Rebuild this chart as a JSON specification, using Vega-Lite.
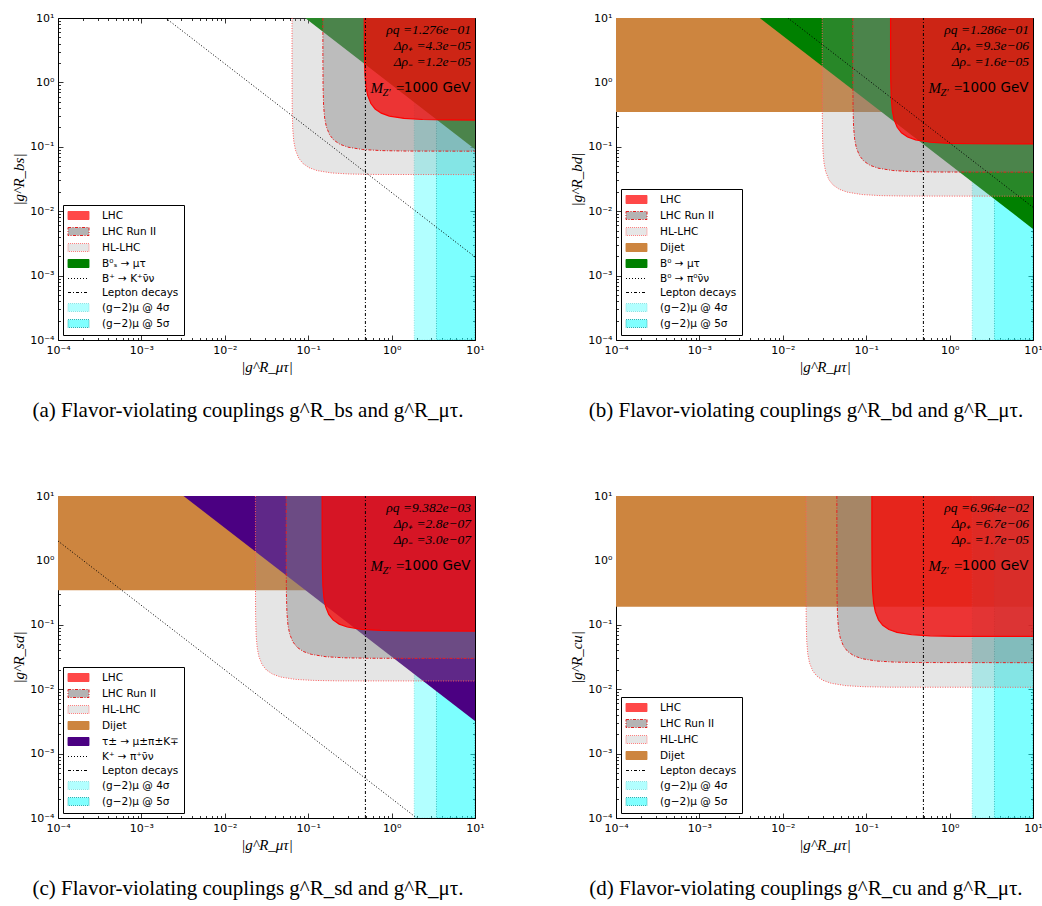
{
"$schema": "https://vega.github.io/schema/vega-lite/v6.json",
"background": "white",
"padding": {"left": 11, "top": 11, "right": 2, "bottom": 2},
"datasets": {
"curves": [
{"p":"a","r":"fl","x":0.092,"y":10},{"p":"a","r":"fl","x":10,"y":0.092},
{"p":"a","r":"hl","x":0.064,"y":10},{"p":"a","r":"hl","x":0.0640032,"y":3.7},{"p":"a","r":"hl","x":0.064032,"y":1.17},{"p":"a","r":"hl","x":0.06432,"y":0.3715},{"p":"a","r":"hl","x":0.06528,"y":0.1878},{"p":"a","r":"hl","x":0.0672,"y":0.1214},{"p":"a","r":"hl","x":0.0704,"y":0.0888},{"p":"a","r":"hl","x":0.0768,"y":0.0669},{"p":"a","r":"hl","x":0.0864,"y":0.0551},{"p":"a","r":"hl","x":0.1024,"y":0.0474},{"p":"a","r":"hl","x":0.128,"y":0.0427},{"p":"a","r":"hl","x":0.192,"y":0.03925},{"p":"a","r":"hl","x":0.32,"y":0.03776},{"p":"a","r":"hl","x":0.64,"y":0.03719},{"p":"a","r":"hl","x":10,"y":0.037},
{"p":"a","r":"run2","x":0.15,"y":10},{"p":"a","r":"run2","x":0.150008,"y":8.55},{"p":"a","r":"run2","x":0.150075,"y":2.704},{"p":"a","r":"run2","x":0.15075,"y":0.8584},{"p":"a","r":"run2","x":0.153,"y":0.4339},{"p":"a","r":"run2","x":0.1575,"y":0.2804},{"p":"a","r":"run2","x":0.165,"y":0.2052},{"p":"a","r":"run2","x":0.18,"y":0.1547},{"p":"a","r":"run2","x":0.2025,"y":0.1273},{"p":"a","r":"run2","x":0.24,"y":0.1095},{"p":"a","r":"run2","x":0.3,"y":0.0987},{"p":"a","r":"run2","x":0.45,"y":0.0907},{"p":"a","r":"run2","x":0.75,"y":0.0873},{"p":"a","r":"run2","x":1.5,"y":0.0859},{"p":"a","r":"run2","x":10,"y":0.0855},
{"p":"a","r":"lhc","x":0.47,"y":10},{"p":"a","r":"lhc","x":0.470235,"y":8.224},{"p":"a","r":"lhc","x":0.47235,"y":2.61},{"p":"a","r":"lhc","x":0.4794,"y":1.3195},{"p":"a","r":"lhc","x":0.4935,"y":0.8528},{"p":"a","r":"lhc","x":0.517,"y":0.624},{"p":"a","r":"lhc","x":0.564,"y":0.4703},{"p":"a","r":"lhc","x":0.6345,"y":0.387},{"p":"a","r":"lhc","x":0.752,"y":0.3331},{"p":"a","r":"lhc","x":0.94,"y":0.3002},{"p":"a","r":"lhc","x":1.41,"y":0.2758},{"p":"a","r":"lhc","x":2.35,"y":0.2654},{"p":"a","r":"lhc","x":4.7,"y":0.2613},{"p":"a","r":"lhc","x":10,"y":0.26},
{"p":"b","r":"fl","x":0.0053,"y":10},{"p":"b","r":"fl","x":10,"y":0.0053},
{"p":"b","r":"hl","x":0.0297,"y":10},{"p":"b","r":"hl","x":0.0297015,"y":1.71},{"p":"b","r":"hl","x":0.0297149,"y":0.5409},{"p":"b","r":"hl","x":0.02985,"y":0.1717},{"p":"b","r":"hl","x":0.030294,"y":0.08678},{"p":"b","r":"hl","x":0.031185,"y":0.05609},{"p":"b","r":"hl","x":0.03267,"y":0.04104},{"p":"b","r":"hl","x":0.03564,"y":0.03093},{"p":"b","r":"hl","x":0.0401,"y":0.02546},{"p":"b","r":"hl","x":0.04752,"y":0.0219},{"p":"b","r":"hl","x":0.0594,"y":0.01975},{"p":"b","r":"hl","x":0.0891,"y":0.01814},{"p":"b","r":"hl","x":0.1485,"y":0.01745},{"p":"b","r":"hl","x":0.297,"y":0.01719},{"p":"b","r":"hl","x":10,"y":0.0171},
{"p":"b","r":"run2","x":0.0692,"y":10},{"p":"b","r":"run2","x":0.0692035,"y":4.04},{"p":"b","r":"run2","x":0.0692346,"y":1.278},{"p":"b","r":"run2","x":0.069546,"y":0.4056},{"p":"b","r":"run2","x":0.070584,"y":0.205},{"p":"b","r":"run2","x":0.07266,"y":0.1325},{"p":"b","r":"run2","x":0.07612,"y":0.097},{"p":"b","r":"run2","x":0.08304,"y":0.0731},{"p":"b","r":"run2","x":0.09342,"y":0.06014},{"p":"b","r":"run2","x":0.11072,"y":0.05175},{"p":"b","r":"run2","x":0.1384,"y":0.04665},{"p":"b","r":"run2","x":0.2076,"y":0.04285},{"p":"b","r":"run2","x":0.346,"y":0.04123},{"p":"b","r":"run2","x":0.692,"y":0.0406},{"p":"b","r":"run2","x":10,"y":0.0404},
{"p":"b","r":"lhc","x":0.196,"y":10},{"p":"b","r":"lhc","x":0.196098,"y":3.511},{"p":"b","r":"lhc","x":0.19698,"y":1.1144},{"p":"b","r":"lhc","x":0.19992,"y":0.5633},{"p":"b","r":"lhc","x":0.2058,"y":0.3641},{"p":"b","r":"lhc","x":0.2156,"y":0.2664},{"p":"b","r":"lhc","x":0.2352,"y":0.2008},{"p":"b","r":"lhc","x":0.2646,"y":0.1652},{"p":"b","r":"lhc","x":0.3136,"y":0.1422},{"p":"b","r":"lhc","x":0.392,"y":0.1282},{"p":"b","r":"lhc","x":0.588,"y":0.1177},{"p":"b","r":"lhc","x":0.98,"y":0.1133},{"p":"b","r":"lhc","x":1.96,"y":0.1116},{"p":"b","r":"lhc","x":10,"y":0.111},
{"p":"c","r":"fl","x":0.0032,"y":10},{"p":"c","r":"fl","x":10,"y":0.0032},
{"p":"c","r":"hl","x":0.0233,"y":10},{"p":"c","r":"hl","x":0.0233012,"y":1.34},{"p":"c","r":"hl","x":0.0233117,"y":0.4238},{"p":"c","r":"hl","x":0.023417,"y":0.1345},{"p":"c","r":"hl","x":0.023766,"y":0.068},{"p":"c","r":"hl","x":0.024465,"y":0.04395},{"p":"c","r":"hl","x":0.02563,"y":0.03216},{"p":"c","r":"hl","x":0.02796,"y":0.02424},{"p":"c","r":"hl","x":0.031455,"y":0.01995},{"p":"c","r":"hl","x":0.03728,"y":0.01717},{"p":"c","r":"hl","x":0.0466,"y":0.01547},{"p":"c","r":"hl","x":0.0699,"y":0.01421},{"p":"c","r":"hl","x":0.1165,"y":0.01368},{"p":"c","r":"hl","x":0.233,"y":0.01347},{"p":"c","r":"hl","x":10,"y":0.0134},
{"p":"c","r":"run2","x":0.0545,"y":10},{"p":"c","r":"run2","x":0.0545027,"y":3.01},{"p":"c","r":"run2","x":0.0545273,"y":0.952},{"p":"c","r":"run2","x":0.054773,"y":0.3022},{"p":"c","r":"run2","x":0.05559,"y":0.1528},{"p":"c","r":"run2","x":0.057225,"y":0.09873},{"p":"c","r":"run2","x":0.05995,"y":0.07224},{"p":"c","r":"run2","x":0.0654,"y":0.05445},{"p":"c","r":"run2","x":0.073575,"y":0.04481},{"p":"c","r":"run2","x":0.0872,"y":0.03856},{"p":"c","r":"run2","x":0.109,"y":0.03476},{"p":"c","r":"run2","x":0.1635,"y":0.03193},{"p":"c","r":"run2","x":0.2725,"y":0.03072},{"p":"c","r":"run2","x":0.545,"y":0.03025},{"p":"c","r":"run2","x":10,"y":0.0301},
{"p":"c","r":"lhc","x":0.147,"y":10},{"p":"c","r":"lhc","x":0.1470074,"y":8},{"p":"c","r":"lhc","x":0.1470735,"y":2.53},{"p":"c","r":"lhc","x":0.147735,"y":0.8032},{"p":"c","r":"lhc","x":0.14994,"y":0.406},{"p":"c","r":"lhc","x":0.15435,"y":0.2624},{"p":"c","r":"lhc","x":0.1617,"y":0.192},{"p":"c","r":"lhc","x":0.1764,"y":0.1447},{"p":"c","r":"lhc","x":0.19845,"y":0.1191},{"p":"c","r":"lhc","x":0.2352,"y":0.1025},{"p":"c","r":"lhc","x":0.294,"y":0.09238},{"p":"c","r":"lhc","x":0.441,"y":0.08486},{"p":"c","r":"lhc","x":0.735,"y":0.08165},{"p":"c","r":"lhc","x":1.47,"y":0.0804},{"p":"c","r":"lhc","x":10,"y":0.08},
{"p":"d","r":"hl","x":0.019,"y":10},{"p":"d","r":"hl","x":0.019001,"y":1.07},{"p":"d","r":"hl","x":0.0190095,"y":0.3384},{"p":"d","r":"hl","x":0.019095,"y":0.1074},{"p":"d","r":"hl","x":0.01938,"y":0.0543},{"p":"d","r":"hl","x":0.01995,"y":0.0351},{"p":"d","r":"hl","x":0.0209,"y":0.02568},{"p":"d","r":"hl","x":0.0228,"y":0.01936},{"p":"d","r":"hl","x":0.02565,"y":0.01593},{"p":"d","r":"hl","x":0.0304,"y":0.01371},{"p":"d","r":"hl","x":0.038,"y":0.01236},{"p":"d","r":"hl","x":0.057,"y":0.01135},{"p":"d","r":"hl","x":0.095,"y":0.01092},{"p":"d","r":"hl","x":0.19,"y":0.01075},{"p":"d","r":"hl","x":10,"y":0.0107},
{"p":"d","r":"run2","x":0.0445,"y":10},{"p":"d","r":"run2","x":0.0445022,"y":2.58},{"p":"d","r":"run2","x":0.0445223,"y":0.816},{"p":"d","r":"run2","x":0.044723,"y":0.259},{"p":"d","r":"run2","x":0.04539,"y":0.1309},{"p":"d","r":"run2","x":0.046725,"y":0.08462},{"p":"d","r":"run2","x":0.04895,"y":0.06192},{"p":"d","r":"run2","x":0.0534,"y":0.04667},{"p":"d","r":"run2","x":0.060075,"y":0.03841},{"p":"d","r":"run2","x":0.0712,"y":0.03305},{"p":"d","r":"run2","x":0.089,"y":0.02979},{"p":"d","r":"run2","x":0.1335,"y":0.02737},{"p":"d","r":"run2","x":0.2225,"y":0.02633},{"p":"d","r":"run2","x":0.445,"y":0.02593},{"p":"d","r":"run2","x":10,"y":0.0258},
{"p":"d","r":"lhc","x":0.117,"y":10},{"p":"d","r":"lhc","x":0.1170059,"y":6.6},{"p":"d","r":"lhc","x":0.1170585,"y":2.088},{"p":"d","r":"lhc","x":0.117585,"y":0.6626},{"p":"d","r":"lhc","x":0.11934,"y":0.335},{"p":"d","r":"lhc","x":0.12285,"y":0.2165},{"p":"d","r":"lhc","x":0.1287,"y":0.1584},{"p":"d","r":"lhc","x":0.1404,"y":0.1194},{"p":"d","r":"lhc","x":0.15795,"y":0.09825},{"p":"d","r":"lhc","x":0.1872,"y":0.08455},{"p":"d","r":"lhc","x":0.234,"y":0.07621},{"p":"d","r":"lhc","x":0.351,"y":0.07},{"p":"d","r":"lhc","x":0.585,"y":0.06736},{"p":"d","r":"lhc","x":1.17,"y":0.06633},{"p":"d","r":"lhc","x":10,"y":0.066}
],
"rects": [
{"p":"a","r":"c4","x1":1.87,"x2":10,"y1":0.0001,"y2":10},{"p":"a","r":"c5","x1":3.45,"x2":10,"y1":0.0001,"y2":10},
{"p":"b","r":"dj","x1":0.0001,"x2":10,"y1":0.348,"y2":10},{"p":"b","r":"c4","x1":1.87,"x2":10,"y1":0.0001,"y2":10},{"p":"b","r":"c5","x1":3.45,"x2":10,"y1":0.0001,"y2":10},
{"p":"c","r":"dj","x1":0.0001,"x2":10,"y1":0.345,"y2":10},{"p":"c","r":"c4","x1":1.87,"x2":10,"y1":0.0001,"y2":10},{"p":"c","r":"c5","x1":3.45,"x2":10,"y1":0.0001,"y2":10},
{"p":"d","r":"dj","x1":0.0001,"x2":10,"y1":0.19,"y2":10},{"p":"d","r":"c4","x1":1.87,"x2":10,"y1":0.0001,"y2":10},{"p":"d","r":"c5","x1":3.45,"x2":10,"y1":0.0001,"y2":10}
],
"rules": [
{"p":"a","r":"dot","x1":0.00195,"y1":10,"x2":10,"y2":0.00195},{"p":"a","r":"lep","x1":0.485,"y1":0.0001,"x2":0.485,"y2":10},
{"p":"b","r":"dot","x1":0.0115,"y1":10,"x2":10,"y2":0.0115},{"p":"b","r":"lep","x1":0.485,"y1":0.0001,"x2":0.485,"y2":10},
{"p":"c","r":"dot","x1":0.0001,"y1":2.0,"x2":2.0,"y2":0.0001},{"p":"c","r":"lep","x1":0.485,"y1":0.0001,"x2":0.485,"y2":10},
{"p":"d","r":"lep","x1":0.485,"y1":0.0001,"x2":0.485,"y2":10}
],
"notes": [
{"p":"a","lines":["ρq =1.276e−01","Δρ₊ =4.3e−05","Δρ₋ =1.2e−05"]},
{"p":"b","lines":["ρq =1.286e−01","Δρ₊ =9.3e−06","Δρ₋ =1.6e−05"]},
{"p":"c","lines":["ρq =9.382e−03","Δρ₊ =2.8e−07","Δρ₋ =3.0e−07"]},
{"p":"d","lines":["ρq =6.964e−02","Δρ₊ =6.7e−06","Δρ₋ =1.7e−05"]}
]
},
"columns": 2,
"spacing": {"row": 156, "column": 141},
"bounds": "flush",
"resolve": {"scale": {"x": "independent", "y": "independent", "color": "independent", "stroke": "independent", "strokeDash": "independent", "shape": "independent"}, "legend": {"color": "independent", "stroke": "independent", "strokeDash": "independent", "shape": "independent"}},
"concat": [
{
"width": 417, "height": 322,
"title": {"text": "(a) Flavor-violating couplings g^R_bs and g^R_μτ."},
"resolve": {"axis": {"x": "independent", "y": "independent"}},
"layer": [
{"data": {"name": "rects"}, "transform": [{"filter": "datum.p=='a' && datum.r=='c4'"}],
 "mark": {"type": "rect", "color": "#00ffff", "fillOpacity": 0.3, "stroke": "#8fe3e3", "strokeWidth": 1, "strokeDash": [1, 1.5], "clip": true},
 "encoding": {
  "x": {"field": "x1", "type": "quantitative", "scale": {"type": "log", "domain": [0.0001, 10]}, "axis": {"orient": "bottom", "values": [0.0001,0.001,0.01,0.1,1,10], "tickSize": -5, "labelPadding": 9, "labelExpr": "['10⁻⁴','10⁻³','10⁻²','10⁻¹','10⁰','10¹'][round(log(datum.value)/LN10)+4]", "title": "|g^R_μτ|", "titlePadding": 4}},
  "x2": {"field": "x2"},
  "y": {"field": "y1", "type": "quantitative", "scale": {"type": "log", "domain": [0.0001, 10]}, "axis": {"orient": "left", "values": [0.0001,0.001,0.01,0.1,1,10], "tickSize": -5, "labelPadding": 9, "labelExpr": "['10⁻⁴','10⁻³','10⁻²','10⁻¹','10⁰','10¹'][round(log(datum.value)/LN10)+4]", "title": "|g^R_bs|", "titlePadding": 3}},
  "y2": {"field": "y2"}}},
{"data": {"name": "rects"}, "transform": [{"filter": "datum.p=='a' && datum.r=='c5'"}],
 "mark": {"type": "rect", "color": "#00ffff", "fillOpacity": 0.3, "stroke": "#3cbcbc", "strokeWidth": 1, "strokeDash": [1, 1.5], "clip": true},
 "encoding": {
  "x": {"field": "x1", "type": "quantitative", "scale": {"type": "log", "domain": [0.0001, 10]}, "axis": {"orient": "bottom", "values": [0.0002,0.0003,0.0004,0.0005,0.0006,0.0007,0.0008,0.0009,0.002,0.003,0.004,0.005,0.006,0.007,0.008,0.009,0.02,0.03,0.04,0.05,0.06,0.07,0.08,0.09,0.2,0.3,0.4,0.5,0.6,0.7,0.8,0.9,2,3,4,5,6,7,8,9], "tickSize": -2.5, "labels": false, "title": null}},
  "x2": {"field": "x2"},
  "y": {"field": "y1", "type": "quantitative", "scale": {"type": "log", "domain": [0.0001, 10]}, "axis": {"orient": "left", "values": [0.0002,0.0003,0.0004,0.0005,0.0006,0.0007,0.0008,0.0009,0.002,0.003,0.004,0.005,0.006,0.007,0.008,0.009,0.02,0.03,0.04,0.05,0.06,0.07,0.08,0.09,0.2,0.3,0.4,0.5,0.6,0.7,0.8,0.9,2,3,4,5,6,7,8,9], "tickSize": -2.5, "labels": false, "title": null}},
  "y2": {"field": "y2"}}},
{"data": {"name": "curves"}, "transform": [{"filter": "datum.p=='a' && datum.r=='fl'"}],
 "mark": {"type": "area", "color": "#008000", "clip": true},
 "encoding": {"x": {"field": "x", "type": "quantitative", "scale": {"type": "log", "domain": [0.0001, 10]}, "axis": null}, "y": {"field": "y", "type": "quantitative", "scale": {"type": "log", "domain": [0.0001, 10]}, "axis": null}, "y2": {"datum": 10}}},
{"data": {"name": "curves"}, "transform": [{"filter": "datum.p=='a' && datum.r=='hl'"}],
 "mark": {"type": "area", "color": "#9b9b9b", "fillOpacity": 0.26, "clip": true},
 "encoding": {"x": {"field": "x", "type": "quantitative", "scale": {"type": "log", "domain": [0.0001, 10]}, "axis": null}, "y": {"field": "y", "type": "quantitative", "scale": {"type": "log", "domain": [0.0001, 10]}, "axis": null}, "y2": {"datum": 10}}},
{"data": {"name": "curves"}, "transform": [{"filter": "datum.p=='a' && datum.r=='hl'"}],
 "mark": {"type": "line", "stroke": "#ff5a5a", "strokeWidth": 1, "strokeDash": [1, 1.5], "clip": true},
 "encoding": {"x": {"field": "x", "type": "quantitative", "scale": {"type": "log", "domain": [0.0001, 10]}, "axis": null}, "y": {"field": "y", "type": "quantitative", "scale": {"type": "log", "domain": [0.0001, 10]}, "axis": null}}},
{"data": {"name": "curves"}, "transform": [{"filter": "datum.p=='a' && datum.r=='run2'"}],
 "mark": {"type": "area", "color": "#808080", "fillOpacity": 0.4, "clip": true},
 "encoding": {"x": {"field": "x", "type": "quantitative", "scale": {"type": "log", "domain": [0.0001, 10]}, "axis": null}, "y": {"field": "y", "type": "quantitative", "scale": {"type": "log", "domain": [0.0001, 10]}, "axis": null}, "y2": {"datum": 10}}},
{"data": {"name": "curves"}, "transform": [{"filter": "datum.p=='a' && datum.r=='run2'"}],
 "mark": {"type": "line", "stroke": "#e82020", "strokeWidth": 1, "strokeDash": [3, 1.5, 1, 1.5], "clip": true},
 "encoding": {"x": {"field": "x", "type": "quantitative", "scale": {"type": "log", "domain": [0.0001, 10]}, "axis": null}, "y": {"field": "y", "type": "quantitative", "scale": {"type": "log", "domain": [0.0001, 10]}, "axis": null}}},
{"data": {"name": "curves"}, "transform": [{"filter": "datum.p=='a' && datum.r=='lhc'"}],
 "mark": {"type": "area", "color": "#ff0000", "fillOpacity": 0.72, "clip": true},
 "encoding": {"x": {"field": "x", "type": "quantitative", "scale": {"type": "log", "domain": [0.0001, 10]}, "axis": {"orient": "top", "values": [0.0001,0.001,0.01,0.1,1,10], "tickSize": -5, "labels": false, "title": null}}, "y": {"field": "y", "type": "quantitative", "scale": {"type": "log", "domain": [0.0001, 10]}, "axis": {"orient": "right", "values": [0.0001,0.001,0.01,0.1,1,10], "tickSize": -5, "labels": false, "title": null}}, "y2": {"datum": 10}}},
{"data": {"name": "curves"}, "transform": [{"filter": "datum.p=='a' && datum.r=='lhc'"}],
 "mark": {"type": "line", "stroke": "#ff0000", "strokeWidth": 1.2, "clip": true},
 "encoding": {"x": {"field": "x", "type": "quantitative", "scale": {"type": "log", "domain": [0.0001, 10]}, "axis": {"orient": "top", "values": [0.0002,0.0003,0.0004,0.0005,0.0006,0.0007,0.0008,0.0009,0.002,0.003,0.004,0.005,0.006,0.007,0.008,0.009,0.02,0.03,0.04,0.05,0.06,0.07,0.08,0.09,0.2,0.3,0.4,0.5,0.6,0.7,0.8,0.9,2,3,4,5,6,7,8,9], "tickSize": -2.5, "labels": false, "title": null}}, "y": {"field": "y", "type": "quantitative", "scale": {"type": "log", "domain": [0.0001, 10]}, "axis": {"orient": "right", "values": [0.0002,0.0003,0.0004,0.0005,0.0006,0.0007,0.0008,0.0009,0.002,0.003,0.004,0.005,0.006,0.007,0.008,0.009,0.02,0.03,0.04,0.05,0.06,0.07,0.08,0.09,0.2,0.3,0.4,0.5,0.6,0.7,0.8,0.9,2,3,4,5,6,7,8,9], "tickSize": -2.5, "labels": false, "title": null}}}},
{"data": {"name": "rules"}, "transform": [{"filter": "datum.p=='a' && datum.r=='dot'"}],
 "mark": {"type": "rule", "color": "#000000", "strokeWidth": 1, "strokeDash": [1, 2], "clip": true},
 "encoding": {"x": {"field": "x1", "type": "quantitative", "scale": {"type": "log", "domain": [0.0001, 10]}, "axis": null}, "y": {"field": "y1", "type": "quantitative", "scale": {"type": "log", "domain": [0.0001, 10]}, "axis": null}, "x2": {"field": "x2"}, "y2": {"field": "y2"}}},
{"data": {"name": "rules"}, "transform": [{"filter": "datum.p=='a' && datum.r=='lep'"}],
 "mark": {"type": "rule", "color": "#000000", "strokeWidth": 1, "strokeDash": [3, 2, 1, 2], "clip": true},
 "encoding": {"x": {"field": "x1", "type": "quantitative", "scale": {"type": "log", "domain": [0.0001, 10]}, "axis": null}, "y": {"field": "y1", "type": "quantitative", "scale": {"type": "log", "domain": [0.0001, 10]}, "axis": null}, "x2": {"field": "x2"}, "y2": {"field": "y2"}}},
{"data": {"name": "notes"}, "transform": [{"filter": "datum.p=='a'"}],
 "mark": {"type": "text", "align": "right", "baseline": "top", "dx": -4, "dy": 5, "lineHeight": 16, "font": "Liberation Serif", "fontStyle": "italic", "fontSize": 13.5, "color": "#000000"},
 "encoding": {"x": {"datum": 10, "type": "quantitative", "scale": {"type": "log", "domain": [0.0001, 10]}, "axis": null}, "y": {"datum": 10, "type": "quantitative", "scale": {"type": "log", "domain": [0.0001, 10]}, "axis": null}, "text": {"field": "lines"}}},
{"data": {"name": "notes"}, "transform": [{"filter": "datum.p=='a'"}],
 "mark": {"type": "text", "text": "M", "align": "left", "baseline": "middle", "dx": -104.5, "dy": 70, "font": "Liberation Serif", "fontStyle": "italic", "fontSize": 15, "color": "#000000"},
 "encoding": {"x": {"datum": 10, "type": "quantitative", "scale": {"type": "log", "domain": [0.0001, 10]}, "axis": null}, "y": {"datum": 10, "type": "quantitative", "scale": {"type": "log", "domain": [0.0001, 10]}, "axis": null}}},
{"data": {"name": "notes"}, "transform": [{"filter": "datum.p=='a'"}],
 "mark": {"type": "text", "text": "Z′", "align": "left", "baseline": "middle", "dx": -92.5, "dy": 75, "font": "Liberation Serif", "fontStyle": "italic", "fontSize": 10.5, "color": "#000000"},
 "encoding": {"x": {"datum": 10, "type": "quantitative", "scale": {"type": "log", "domain": [0.0001, 10]}, "axis": null}, "y": {"datum": 10, "type": "quantitative", "scale": {"type": "log", "domain": [0.0001, 10]}, "axis": null}}},
{"data": {"name": "notes"}, "transform": [{"filter": "datum.p=='a'"}],
 "mark": {"type": "text", "text": "=", "align": "left", "baseline": "middle", "dx": -79, "dy": 70, "font": "Liberation Serif", "fontSize": 15, "color": "#000000"},
 "encoding": {"x": {"datum": 10, "type": "quantitative", "scale": {"type": "log", "domain": [0.0001, 10]}, "axis": null}, "y": {"datum": 10, "type": "quantitative", "scale": {"type": "log", "domain": [0.0001, 10]}, "axis": null}}},
{"data": {"name": "notes"}, "transform": [{"filter": "datum.p=='a'"}],
 "mark": {"type": "text", "text": "1000 GeV", "align": "right", "baseline": "middle", "dx": -4.5, "dy": 70, "font": "DejaVu Sans", "fontSize": 13.5, "color": "#000000"},
 "encoding": {"x": {"datum": 10, "type": "quantitative", "scale": {"type": "log", "domain": [0.0001, 10]}, "axis": null}, "y": {"datum": 10, "type": "quantitative", "scale": {"type": "log", "domain": [0.0001, 10]}, "axis": null}}},
{"data": {"values": []},
 "mark": {"type": "point", "filled": true, "opacity": 1},
 "encoding": {
  "color": {"datum": "LHC", "type": "nominal", "scale": {"domain": ["LHC","LHC Run II","HL-LHC","B⁰ₛ → μτ","B⁺ → K⁺ν̄ν","Lepton decays","(g−2)μ @ 4σ","(g−2)μ @ 5σ"], "range": ["#ff4848","#b4b4b4","#e6e6e6","#008000","transparent","transparent","#b2ffff","#80ffff"]}, "legend": {"title": null}},
  "stroke": {"datum": "LHC", "type": "nominal", "scale": {"domain": ["LHC","LHC Run II","HL-LHC","B⁰ₛ → μτ","B⁺ → K⁺ν̄ν","Lepton decays","(g−2)μ @ 4σ","(g−2)μ @ 5σ"], "range": ["#ff4848","#e02020","#ff8080","#008000","#000000","#000000","#8fe3e3","#2fb0b0"]}, "legend": {"title": null}},
  "strokeDash": {"datum": "LHC", "type": "nominal", "scale": {"domain": ["LHC","LHC Run II","HL-LHC","B⁰ₛ → μτ","B⁺ → K⁺ν̄ν","Lepton decays","(g−2)μ @ 4σ","(g−2)μ @ 5σ"], "range": [[1,0],[3,1.5,1,1.5],[1,1],[1,0],[1,2],[3,2,1,2],[1,1],[1,1]]}, "legend": {"title": null}},
  "shape": {"datum": "LHC", "type": "nominal", "scale": {"domain": ["LHC","LHC Run II","HL-LHC","B⁰ₛ → μτ","B⁺ → K⁺ν̄ν","Lepton decays","(g−2)μ @ 4σ","(g−2)μ @ 5σ"], "range": ["M-2.1,-0.8H2.1V0.8H-2.1Z","M-2.1,-0.8H2.1V0.8H-2.1Z","M-2.1,-0.8H2.1V0.8H-2.1Z","M-2.1,-0.8H2.1V0.8H-2.1Z","M-2.1,0H2.1","M-2.1,0H2.1","M-2.1,-0.8H2.1V0.8H-2.1Z","M-2.1,-0.8H2.1V0.8H-2.1Z"]}, "legend": {"title": null}}}}
]
},
{
"width": 417, "height": 322,
"title": {"text": "(b) Flavor-violating couplings g^R_bd and g^R_μτ."},
"resolve": {"axis": {"x": "independent", "y": "independent"}},
"layer": [
{"data": {"name": "rects"}, "transform": [{"filter": "datum.p=='b' && datum.r=='dj'"}],
 "mark": {"type": "rect", "color": "#cd853f", "clip": true},
 "encoding": {"x": {"field": "x1", "type": "quantitative", "scale": {"type": "log", "domain": [0.0001, 10]}, "axis": null}, "x2": {"field": "x2"}, "y": {"field": "y1", "type": "quantitative", "scale": {"type": "log", "domain": [0.0001, 10]}, "axis": null}, "y2": {"field": "y2"}}},
{"data": {"name": "rects"}, "transform": [{"filter": "datum.p=='b' && datum.r=='c4'"}],
 "mark": {"type": "rect", "color": "#00ffff", "fillOpacity": 0.3, "stroke": "#8fe3e3", "strokeWidth": 1, "strokeDash": [1, 1.5], "clip": true},
 "encoding": {
  "x": {"field": "x1", "type": "quantitative", "scale": {"type": "log", "domain": [0.0001, 10]}, "axis": {"orient": "bottom", "values": [0.0001,0.001,0.01,0.1,1,10], "tickSize": -5, "labelPadding": 9, "labelExpr": "['10⁻⁴','10⁻³','10⁻²','10⁻¹','10⁰','10¹'][round(log(datum.value)/LN10)+4]", "title": "|g^R_μτ|", "titlePadding": 4}},
  "x2": {"field": "x2"},
  "y": {"field": "y1", "type": "quantitative", "scale": {"type": "log", "domain": [0.0001, 10]}, "axis": {"orient": "left", "values": [0.0001,0.001,0.01,0.1,1,10], "tickSize": -5, "labelPadding": 9, "labelExpr": "['10⁻⁴','10⁻³','10⁻²','10⁻¹','10⁰','10¹'][round(log(datum.value)/LN10)+4]", "title": "|g^R_bd|", "titlePadding": 3}},
  "y2": {"field": "y2"}}},
{"data": {"name": "rects"}, "transform": [{"filter": "datum.p=='b' && datum.r=='c5'"}],
 "mark": {"type": "rect", "color": "#00ffff", "fillOpacity": 0.3, "stroke": "#3cbcbc", "strokeWidth": 1, "strokeDash": [1, 1.5], "clip": true},
 "encoding": {
  "x": {"field": "x1", "type": "quantitative", "scale": {"type": "log", "domain": [0.0001, 10]}, "axis": {"orient": "bottom", "values": [0.0002,0.0003,0.0004,0.0005,0.0006,0.0007,0.0008,0.0009,0.002,0.003,0.004,0.005,0.006,0.007,0.008,0.009,0.02,0.03,0.04,0.05,0.06,0.07,0.08,0.09,0.2,0.3,0.4,0.5,0.6,0.7,0.8,0.9,2,3,4,5,6,7,8,9], "tickSize": -2.5, "labels": false, "title": null}},
  "x2": {"field": "x2"},
  "y": {"field": "y1", "type": "quantitative", "scale": {"type": "log", "domain": [0.0001, 10]}, "axis": {"orient": "left", "values": [0.0002,0.0003,0.0004,0.0005,0.0006,0.0007,0.0008,0.0009,0.002,0.003,0.004,0.005,0.006,0.007,0.008,0.009,0.02,0.03,0.04,0.05,0.06,0.07,0.08,0.09,0.2,0.3,0.4,0.5,0.6,0.7,0.8,0.9,2,3,4,5,6,7,8,9], "tickSize": -2.5, "labels": false, "title": null}},
  "y2": {"field": "y2"}}},
{"data": {"name": "curves"}, "transform": [{"filter": "datum.p=='b' && datum.r=='fl'"}],
 "mark": {"type": "area", "color": "#008000", "clip": true},
 "encoding": {"x": {"field": "x", "type": "quantitative", "scale": {"type": "log", "domain": [0.0001, 10]}, "axis": null}, "y": {"field": "y", "type": "quantitative", "scale": {"type": "log", "domain": [0.0001, 10]}, "axis": null}, "y2": {"datum": 10}}},
{"data": {"name": "curves"}, "transform": [{"filter": "datum.p=='b' && datum.r=='hl'"}],
 "mark": {"type": "area", "color": "#9b9b9b", "fillOpacity": 0.26, "clip": true},
 "encoding": {"x": {"field": "x", "type": "quantitative", "scale": {"type": "log", "domain": [0.0001, 10]}, "axis": null}, "y": {"field": "y", "type": "quantitative", "scale": {"type": "log", "domain": [0.0001, 10]}, "axis": null}, "y2": {"datum": 10}}},
{"data": {"name": "curves"}, "transform": [{"filter": "datum.p=='b' && datum.r=='hl'"}],
 "mark": {"type": "line", "stroke": "#ff5a5a", "strokeWidth": 1, "strokeDash": [1, 1.5], "clip": true},
 "encoding": {"x": {"field": "x", "type": "quantitative", "scale": {"type": "log", "domain": [0.0001, 10]}, "axis": null}, "y": {"field": "y", "type": "quantitative", "scale": {"type": "log", "domain": [0.0001, 10]}, "axis": null}}},
{"data": {"name": "curves"}, "transform": [{"filter": "datum.p=='b' && datum.r=='run2'"}],
 "mark": {"type": "area", "color": "#808080", "fillOpacity": 0.4, "clip": true},
 "encoding": {"x": {"field": "x", "type": "quantitative", "scale": {"type": "log", "domain": [0.0001, 10]}, "axis": null}, "y": {"field": "y", "type": "quantitative", "scale": {"type": "log", "domain": [0.0001, 10]}, "axis": null}, "y2": {"datum": 10}}},
{"data": {"name": "curves"}, "transform": [{"filter": "datum.p=='b' && datum.r=='run2'"}],
 "mark": {"type": "line", "stroke": "#e82020", "strokeWidth": 1, "strokeDash": [3, 1.5, 1, 1.5], "clip": true},
 "encoding": {"x": {"field": "x", "type": "quantitative", "scale": {"type": "log", "domain": [0.0001, 10]}, "axis": null}, "y": {"field": "y", "type": "quantitative", "scale": {"type": "log", "domain": [0.0001, 10]}, "axis": null}}},
{"data": {"name": "curves"}, "transform": [{"filter": "datum.p=='b' && datum.r=='lhc'"}],
 "mark": {"type": "area", "color": "#ff0000", "fillOpacity": 0.72, "clip": true},
 "encoding": {"x": {"field": "x", "type": "quantitative", "scale": {"type": "log", "domain": [0.0001, 10]}, "axis": {"orient": "top", "values": [0.0001,0.001,0.01,0.1,1,10], "tickSize": -5, "labels": false, "title": null}}, "y": {"field": "y", "type": "quantitative", "scale": {"type": "log", "domain": [0.0001, 10]}, "axis": {"orient": "right", "values": [0.0001,0.001,0.01,0.1,1,10], "tickSize": -5, "labels": false, "title": null}}, "y2": {"datum": 10}}},
{"data": {"name": "curves"}, "transform": [{"filter": "datum.p=='b' && datum.r=='lhc'"}],
 "mark": {"type": "line", "stroke": "#ff0000", "strokeWidth": 1.2, "clip": true},
 "encoding": {"x": {"field": "x", "type": "quantitative", "scale": {"type": "log", "domain": [0.0001, 10]}, "axis": {"orient": "top", "values": [0.0002,0.0003,0.0004,0.0005,0.0006,0.0007,0.0008,0.0009,0.002,0.003,0.004,0.005,0.006,0.007,0.008,0.009,0.02,0.03,0.04,0.05,0.06,0.07,0.08,0.09,0.2,0.3,0.4,0.5,0.6,0.7,0.8,0.9,2,3,4,5,6,7,8,9], "tickSize": -2.5, "labels": false, "title": null}}, "y": {"field": "y", "type": "quantitative", "scale": {"type": "log", "domain": [0.0001, 10]}, "axis": {"orient": "right", "values": [0.0002,0.0003,0.0004,0.0005,0.0006,0.0007,0.0008,0.0009,0.002,0.003,0.004,0.005,0.006,0.007,0.008,0.009,0.02,0.03,0.04,0.05,0.06,0.07,0.08,0.09,0.2,0.3,0.4,0.5,0.6,0.7,0.8,0.9,2,3,4,5,6,7,8,9], "tickSize": -2.5, "labels": false, "title": null}}}},
{"data": {"name": "rules"}, "transform": [{"filter": "datum.p=='b' && datum.r=='dot'"}],
 "mark": {"type": "rule", "color": "#000000", "strokeWidth": 1, "strokeDash": [1, 2], "clip": true},
 "encoding": {"x": {"field": "x1", "type": "quantitative", "scale": {"type": "log", "domain": [0.0001, 10]}, "axis": null}, "y": {"field": "y1", "type": "quantitative", "scale": {"type": "log", "domain": [0.0001, 10]}, "axis": null}, "x2": {"field": "x2"}, "y2": {"field": "y2"}}},
{"data": {"name": "rules"}, "transform": [{"filter": "datum.p=='b' && datum.r=='lep'"}],
 "mark": {"type": "rule", "color": "#000000", "strokeWidth": 1, "strokeDash": [3, 2, 1, 2], "clip": true},
 "encoding": {"x": {"field": "x1", "type": "quantitative", "scale": {"type": "log", "domain": [0.0001, 10]}, "axis": null}, "y": {"field": "y1", "type": "quantitative", "scale": {"type": "log", "domain": [0.0001, 10]}, "axis": null}, "x2": {"field": "x2"}, "y2": {"field": "y2"}}},
{"data": {"name": "notes"}, "transform": [{"filter": "datum.p=='b'"}],
 "mark": {"type": "text", "align": "right", "baseline": "top", "dx": -4, "dy": 5, "lineHeight": 16, "font": "Liberation Serif", "fontStyle": "italic", "fontSize": 13.5, "color": "#000000"},
 "encoding": {"x": {"datum": 10, "type": "quantitative", "scale": {"type": "log", "domain": [0.0001, 10]}, "axis": null}, "y": {"datum": 10, "type": "quantitative", "scale": {"type": "log", "domain": [0.0001, 10]}, "axis": null}, "text": {"field": "lines"}}},
{"data": {"name": "notes"}, "transform": [{"filter": "datum.p=='b'"}],
 "mark": {"type": "text", "text": "M", "align": "left", "baseline": "middle", "dx": -104.5, "dy": 70, "font": "Liberation Serif", "fontStyle": "italic", "fontSize": 15, "color": "#000000"},
 "encoding": {"x": {"datum": 10, "type": "quantitative", "scale": {"type": "log", "domain": [0.0001, 10]}, "axis": null}, "y": {"datum": 10, "type": "quantitative", "scale": {"type": "log", "domain": [0.0001, 10]}, "axis": null}}},
{"data": {"name": "notes"}, "transform": [{"filter": "datum.p=='b'"}],
 "mark": {"type": "text", "text": "Z′", "align": "left", "baseline": "middle", "dx": -92.5, "dy": 75, "font": "Liberation Serif", "fontStyle": "italic", "fontSize": 10.5, "color": "#000000"},
 "encoding": {"x": {"datum": 10, "type": "quantitative", "scale": {"type": "log", "domain": [0.0001, 10]}, "axis": null}, "y": {"datum": 10, "type": "quantitative", "scale": {"type": "log", "domain": [0.0001, 10]}, "axis": null}}},
{"data": {"name": "notes"}, "transform": [{"filter": "datum.p=='b'"}],
 "mark": {"type": "text", "text": "=", "align": "left", "baseline": "middle", "dx": -79, "dy": 70, "font": "Liberation Serif", "fontSize": 15, "color": "#000000"},
 "encoding": {"x": {"datum": 10, "type": "quantitative", "scale": {"type": "log", "domain": [0.0001, 10]}, "axis": null}, "y": {"datum": 10, "type": "quantitative", "scale": {"type": "log", "domain": [0.0001, 10]}, "axis": null}}},
{"data": {"name": "notes"}, "transform": [{"filter": "datum.p=='b'"}],
 "mark": {"type": "text", "text": "1000 GeV", "align": "right", "baseline": "middle", "dx": -4.5, "dy": 70, "font": "DejaVu Sans", "fontSize": 13.5, "color": "#000000"},
 "encoding": {"x": {"datum": 10, "type": "quantitative", "scale": {"type": "log", "domain": [0.0001, 10]}, "axis": null}, "y": {"datum": 10, "type": "quantitative", "scale": {"type": "log", "domain": [0.0001, 10]}, "axis": null}}},
{"data": {"values": []},
 "mark": {"type": "point", "filled": true, "opacity": 1},
 "encoding": {
  "color": {"datum": "LHC", "type": "nominal", "scale": {"domain": ["LHC","LHC Run II","HL-LHC","Dijet","B⁰ → μτ","B⁰ → π⁰ν̄ν","Lepton decays","(g−2)μ @ 4σ","(g−2)μ @ 5σ"], "range": ["#ff4848","#b4b4b4","#e6e6e6","#cd853f","#008000","transparent","transparent","#b2ffff","#80ffff"]}, "legend": {"title": null}},
  "stroke": {"datum": "LHC", "type": "nominal", "scale": {"domain": ["LHC","LHC Run II","HL-LHC","Dijet","B⁰ → μτ","B⁰ → π⁰ν̄ν","Lepton decays","(g−2)μ @ 4σ","(g−2)μ @ 5σ"], "range": ["#ff4848","#e02020","#ff8080","#cd853f","#008000","#000000","#000000","#8fe3e3","#2fb0b0"]}, "legend": {"title": null}},
  "strokeDash": {"datum": "LHC", "type": "nominal", "scale": {"domain": ["LHC","LHC Run II","HL-LHC","Dijet","B⁰ → μτ","B⁰ → π⁰ν̄ν","Lepton decays","(g−2)μ @ 4σ","(g−2)μ @ 5σ"], "range": [[1,0],[3,1.5,1,1.5],[1,1],[1,0],[1,0],[1,2],[3,2,1,2],[1,1],[1,1]]}, "legend": {"title": null}},
  "shape": {"datum": "LHC", "type": "nominal", "scale": {"domain": ["LHC","LHC Run II","HL-LHC","Dijet","B⁰ → μτ","B⁰ → π⁰ν̄ν","Lepton decays","(g−2)μ @ 4σ","(g−2)μ @ 5σ"], "range": ["M-2.1,-0.8H2.1V0.8H-2.1Z","M-2.1,-0.8H2.1V0.8H-2.1Z","M-2.1,-0.8H2.1V0.8H-2.1Z","M-2.1,-0.8H2.1V0.8H-2.1Z","M-2.1,-0.8H2.1V0.8H-2.1Z","M-2.1,0H2.1","M-2.1,0H2.1","M-2.1,-0.8H2.1V0.8H-2.1Z","M-2.1,-0.8H2.1V0.8H-2.1Z"]}, "legend": {"title": null}}}}
]
},
{
"width": 417, "height": 322,
"title": {"text": "(c) Flavor-violating couplings g^R_sd and g^R_μτ."},
"resolve": {"axis": {"x": "independent", "y": "independent"}},
"layer": [
{"data": {"name": "rects"}, "transform": [{"filter": "datum.p=='c' && datum.r=='dj'"}],
 "mark": {"type": "rect", "color": "#cd853f", "clip": true},
 "encoding": {"x": {"field": "x1", "type": "quantitative", "scale": {"type": "log", "domain": [0.0001, 10]}, "axis": null}, "x2": {"field": "x2"}, "y": {"field": "y1", "type": "quantitative", "scale": {"type": "log", "domain": [0.0001, 10]}, "axis": null}, "y2": {"field": "y2"}}},
{"data": {"name": "rects"}, "transform": [{"filter": "datum.p=='c' && datum.r=='c4'"}],
 "mark": {"type": "rect", "color": "#00ffff", "fillOpacity": 0.3, "stroke": "#8fe3e3", "strokeWidth": 1, "strokeDash": [1, 1.5], "clip": true},
 "encoding": {
  "x": {"field": "x1", "type": "quantitative", "scale": {"type": "log", "domain": [0.0001, 10]}, "axis": {"orient": "bottom", "values": [0.0001,0.001,0.01,0.1,1,10], "tickSize": -5, "labelPadding": 9, "labelExpr": "['10⁻⁴','10⁻³','10⁻²','10⁻¹','10⁰','10¹'][round(log(datum.value)/LN10)+4]", "title": "|g^R_μτ|", "titlePadding": 4}},
  "x2": {"field": "x2"},
  "y": {"field": "y1", "type": "quantitative", "scale": {"type": "log", "domain": [0.0001, 10]}, "axis": {"orient": "left", "values": [0.0001,0.001,0.01,0.1,1,10], "tickSize": -5, "labelPadding": 9, "labelExpr": "['10⁻⁴','10⁻³','10⁻²','10⁻¹','10⁰','10¹'][round(log(datum.value)/LN10)+4]", "title": "|g^R_sd|", "titlePadding": 3}},
  "y2": {"field": "y2"}}},
{"data": {"name": "rects"}, "transform": [{"filter": "datum.p=='c' && datum.r=='c5'"}],
 "mark": {"type": "rect", "color": "#00ffff", "fillOpacity": 0.3, "stroke": "#3cbcbc", "strokeWidth": 1, "strokeDash": [1, 1.5], "clip": true},
 "encoding": {
  "x": {"field": "x1", "type": "quantitative", "scale": {"type": "log", "domain": [0.0001, 10]}, "axis": {"orient": "bottom", "values": [0.0002,0.0003,0.0004,0.0005,0.0006,0.0007,0.0008,0.0009,0.002,0.003,0.004,0.005,0.006,0.007,0.008,0.009,0.02,0.03,0.04,0.05,0.06,0.07,0.08,0.09,0.2,0.3,0.4,0.5,0.6,0.7,0.8,0.9,2,3,4,5,6,7,8,9], "tickSize": -2.5, "labels": false, "title": null}},
  "x2": {"field": "x2"},
  "y": {"field": "y1", "type": "quantitative", "scale": {"type": "log", "domain": [0.0001, 10]}, "axis": {"orient": "left", "values": [0.0002,0.0003,0.0004,0.0005,0.0006,0.0007,0.0008,0.0009,0.002,0.003,0.004,0.005,0.006,0.007,0.008,0.009,0.02,0.03,0.04,0.05,0.06,0.07,0.08,0.09,0.2,0.3,0.4,0.5,0.6,0.7,0.8,0.9,2,3,4,5,6,7,8,9], "tickSize": -2.5, "labels": false, "title": null}},
  "y2": {"field": "y2"}}},
{"data": {"name": "curves"}, "transform": [{"filter": "datum.p=='c' && datum.r=='fl'"}],
 "mark": {"type": "area", "color": "#4b0082", "clip": true},
 "encoding": {"x": {"field": "x", "type": "quantitative", "scale": {"type": "log", "domain": [0.0001, 10]}, "axis": null}, "y": {"field": "y", "type": "quantitative", "scale": {"type": "log", "domain": [0.0001, 10]}, "axis": null}, "y2": {"datum": 10}}},
{"data": {"name": "curves"}, "transform": [{"filter": "datum.p=='c' && datum.r=='hl'"}],
 "mark": {"type": "area", "color": "#9b9b9b", "fillOpacity": 0.26, "clip": true},
 "encoding": {"x": {"field": "x", "type": "quantitative", "scale": {"type": "log", "domain": [0.0001, 10]}, "axis": null}, "y": {"field": "y", "type": "quantitative", "scale": {"type": "log", "domain": [0.0001, 10]}, "axis": null}, "y2": {"datum": 10}}},
{"data": {"name": "curves"}, "transform": [{"filter": "datum.p=='c' && datum.r=='hl'"}],
 "mark": {"type": "line", "stroke": "#ff5a5a", "strokeWidth": 1, "strokeDash": [1, 1.5], "clip": true},
 "encoding": {"x": {"field": "x", "type": "quantitative", "scale": {"type": "log", "domain": [0.0001, 10]}, "axis": null}, "y": {"field": "y", "type": "quantitative", "scale": {"type": "log", "domain": [0.0001, 10]}, "axis": null}}},
{"data": {"name": "curves"}, "transform": [{"filter": "datum.p=='c' && datum.r=='run2'"}],
 "mark": {"type": "area", "color": "#808080", "fillOpacity": 0.4, "clip": true},
 "encoding": {"x": {"field": "x", "type": "quantitative", "scale": {"type": "log", "domain": [0.0001, 10]}, "axis": null}, "y": {"field": "y", "type": "quantitative", "scale": {"type": "log", "domain": [0.0001, 10]}, "axis": null}, "y2": {"datum": 10}}},
{"data": {"name": "curves"}, "transform": [{"filter": "datum.p=='c' && datum.r=='run2'"}],
 "mark": {"type": "line", "stroke": "#e82020", "strokeWidth": 1, "strokeDash": [3, 1.5, 1, 1.5], "clip": true},
 "encoding": {"x": {"field": "x", "type": "quantitative", "scale": {"type": "log", "domain": [0.0001, 10]}, "axis": null}, "y": {"field": "y", "type": "quantitative", "scale": {"type": "log", "domain": [0.0001, 10]}, "axis": null}}},
{"data": {"name": "curves"}, "transform": [{"filter": "datum.p=='c' && datum.r=='lhc'"}],
 "mark": {"type": "area", "color": "#ff0000", "fillOpacity": 0.72, "clip": true},
 "encoding": {"x": {"field": "x", "type": "quantitative", "scale": {"type": "log", "domain": [0.0001, 10]}, "axis": {"orient": "top", "values": [0.0001,0.001,0.01,0.1,1,10], "tickSize": -5, "labels": false, "title": null}}, "y": {"field": "y", "type": "quantitative", "scale": {"type": "log", "domain": [0.0001, 10]}, "axis": {"orient": "right", "values": [0.0001,0.001,0.01,0.1,1,10], "tickSize": -5, "labels": false, "title": null}}, "y2": {"datum": 10}}},
{"data": {"name": "curves"}, "transform": [{"filter": "datum.p=='c' && datum.r=='lhc'"}],
 "mark": {"type": "line", "stroke": "#ff0000", "strokeWidth": 1.2, "clip": true},
 "encoding": {"x": {"field": "x", "type": "quantitative", "scale": {"type": "log", "domain": [0.0001, 10]}, "axis": {"orient": "top", "values": [0.0002,0.0003,0.0004,0.0005,0.0006,0.0007,0.0008,0.0009,0.002,0.003,0.004,0.005,0.006,0.007,0.008,0.009,0.02,0.03,0.04,0.05,0.06,0.07,0.08,0.09,0.2,0.3,0.4,0.5,0.6,0.7,0.8,0.9,2,3,4,5,6,7,8,9], "tickSize": -2.5, "labels": false, "title": null}}, "y": {"field": "y", "type": "quantitative", "scale": {"type": "log", "domain": [0.0001, 10]}, "axis": {"orient": "right", "values": [0.0002,0.0003,0.0004,0.0005,0.0006,0.0007,0.0008,0.0009,0.002,0.003,0.004,0.005,0.006,0.007,0.008,0.009,0.02,0.03,0.04,0.05,0.06,0.07,0.08,0.09,0.2,0.3,0.4,0.5,0.6,0.7,0.8,0.9,2,3,4,5,6,7,8,9], "tickSize": -2.5, "labels": false, "title": null}}}},
{"data": {"name": "rules"}, "transform": [{"filter": "datum.p=='c' && datum.r=='dot'"}],
 "mark": {"type": "rule", "color": "#000000", "strokeWidth": 1, "strokeDash": [1, 2], "clip": true},
 "encoding": {"x": {"field": "x1", "type": "quantitative", "scale": {"type": "log", "domain": [0.0001, 10]}, "axis": null}, "y": {"field": "y1", "type": "quantitative", "scale": {"type": "log", "domain": [0.0001, 10]}, "axis": null}, "x2": {"field": "x2"}, "y2": {"field": "y2"}}},
{"data": {"name": "rules"}, "transform": [{"filter": "datum.p=='c' && datum.r=='lep'"}],
 "mark": {"type": "rule", "color": "#000000", "strokeWidth": 1, "strokeDash": [3, 2, 1, 2], "clip": true},
 "encoding": {"x": {"field": "x1", "type": "quantitative", "scale": {"type": "log", "domain": [0.0001, 10]}, "axis": null}, "y": {"field": "y1", "type": "quantitative", "scale": {"type": "log", "domain": [0.0001, 10]}, "axis": null}, "x2": {"field": "x2"}, "y2": {"field": "y2"}}},
{"data": {"name": "notes"}, "transform": [{"filter": "datum.p=='c'"}],
 "mark": {"type": "text", "align": "right", "baseline": "top", "dx": -4, "dy": 5, "lineHeight": 16, "font": "Liberation Serif", "fontStyle": "italic", "fontSize": 13.5, "color": "#000000"},
 "encoding": {"x": {"datum": 10, "type": "quantitative", "scale": {"type": "log", "domain": [0.0001, 10]}, "axis": null}, "y": {"datum": 10, "type": "quantitative", "scale": {"type": "log", "domain": [0.0001, 10]}, "axis": null}, "text": {"field": "lines"}}},
{"data": {"name": "notes"}, "transform": [{"filter": "datum.p=='c'"}],
 "mark": {"type": "text", "text": "M", "align": "left", "baseline": "middle", "dx": -104.5, "dy": 70, "font": "Liberation Serif", "fontStyle": "italic", "fontSize": 15, "color": "#000000"},
 "encoding": {"x": {"datum": 10, "type": "quantitative", "scale": {"type": "log", "domain": [0.0001, 10]}, "axis": null}, "y": {"datum": 10, "type": "quantitative", "scale": {"type": "log", "domain": [0.0001, 10]}, "axis": null}}},
{"data": {"name": "notes"}, "transform": [{"filter": "datum.p=='c'"}],
 "mark": {"type": "text", "text": "Z′", "align": "left", "baseline": "middle", "dx": -92.5, "dy": 75, "font": "Liberation Serif", "fontStyle": "italic", "fontSize": 10.5, "color": "#000000"},
 "encoding": {"x": {"datum": 10, "type": "quantitative", "scale": {"type": "log", "domain": [0.0001, 10]}, "axis": null}, "y": {"datum": 10, "type": "quantitative", "scale": {"type": "log", "domain": [0.0001, 10]}, "axis": null}}},
{"data": {"name": "notes"}, "transform": [{"filter": "datum.p=='c'"}],
 "mark": {"type": "text", "text": "=", "align": "left", "baseline": "middle", "dx": -79, "dy": 70, "font": "Liberation Serif", "fontSize": 15, "color": "#000000"},
 "encoding": {"x": {"datum": 10, "type": "quantitative", "scale": {"type": "log", "domain": [0.0001, 10]}, "axis": null}, "y": {"datum": 10, "type": "quantitative", "scale": {"type": "log", "domain": [0.0001, 10]}, "axis": null}}},
{"data": {"name": "notes"}, "transform": [{"filter": "datum.p=='c'"}],
 "mark": {"type": "text", "text": "1000 GeV", "align": "right", "baseline": "middle", "dx": -4.5, "dy": 70, "font": "DejaVu Sans", "fontSize": 13.5, "color": "#000000"},
 "encoding": {"x": {"datum": 10, "type": "quantitative", "scale": {"type": "log", "domain": [0.0001, 10]}, "axis": null}, "y": {"datum": 10, "type": "quantitative", "scale": {"type": "log", "domain": [0.0001, 10]}, "axis": null}}},
{"data": {"values": []},
 "mark": {"type": "point", "filled": true, "opacity": 1},
 "encoding": {
  "color": {"datum": "LHC", "type": "nominal", "scale": {"domain": ["LHC","LHC Run II","HL-LHC","Dijet","τ± → μ±π±K∓","K⁺ → π⁺ν̄ν","Lepton decays","(g−2)μ @ 4σ","(g−2)μ @ 5σ"], "range": ["#ff4848","#b4b4b4","#e6e6e6","#cd853f","#4b0082","transparent","transparent","#b2ffff","#80ffff"]}, "legend": {"title": null}},
  "stroke": {"datum": "LHC", "type": "nominal", "scale": {"domain": ["LHC","LHC Run II","HL-LHC","Dijet","τ± → μ±π±K∓","K⁺ → π⁺ν̄ν","Lepton decays","(g−2)μ @ 4σ","(g−2)μ @ 5σ"], "range": ["#ff4848","#e02020","#ff8080","#cd853f","#4b0082","#000000","#000000","#8fe3e3","#2fb0b0"]}, "legend": {"title": null}},
  "strokeDash": {"datum": "LHC", "type": "nominal", "scale": {"domain": ["LHC","LHC Run II","HL-LHC","Dijet","τ± → μ±π±K∓","K⁺ → π⁺ν̄ν","Lepton decays","(g−2)μ @ 4σ","(g−2)μ @ 5σ"], "range": [[1,0],[3,1.5,1,1.5],[1,1],[1,0],[1,0],[1,2],[3,2,1,2],[1,1],[1,1]]}, "legend": {"title": null}},
  "shape": {"datum": "LHC", "type": "nominal", "scale": {"domain": ["LHC","LHC Run II","HL-LHC","Dijet","τ± → μ±π±K∓","K⁺ → π⁺ν̄ν","Lepton decays","(g−2)μ @ 4σ","(g−2)μ @ 5σ"], "range": ["M-2.1,-0.8H2.1V0.8H-2.1Z","M-2.1,-0.8H2.1V0.8H-2.1Z","M-2.1,-0.8H2.1V0.8H-2.1Z","M-2.1,-0.8H2.1V0.8H-2.1Z","M-2.1,-0.8H2.1V0.8H-2.1Z","M-2.1,0H2.1","M-2.1,0H2.1","M-2.1,-0.8H2.1V0.8H-2.1Z","M-2.1,-0.8H2.1V0.8H-2.1Z"]}, "legend": {"title": null}}}}
]
},
{
"width": 417, "height": 322,
"title": {"text": "(d) Flavor-violating couplings g^R_cu and g^R_μτ."},
"resolve": {"axis": {"x": "independent", "y": "independent"}},
"layer": [
{"data": {"name": "rects"}, "transform": [{"filter": "datum.p=='d' && datum.r=='dj'"}],
 "mark": {"type": "rect", "color": "#cd853f", "clip": true},
 "encoding": {"x": {"field": "x1", "type": "quantitative", "scale": {"type": "log", "domain": [0.0001, 10]}, "axis": null}, "x2": {"field": "x2"}, "y": {"field": "y1", "type": "quantitative", "scale": {"type": "log", "domain": [0.0001, 10]}, "axis": null}, "y2": {"field": "y2"}}},
{"data": {"name": "rects"}, "transform": [{"filter": "datum.p=='d' && datum.r=='c4'"}],
 "mark": {"type": "rect", "color": "#00ffff", "fillOpacity": 0.3, "stroke": "#8fe3e3", "strokeWidth": 1, "strokeDash": [1, 1.5], "clip": true},
 "encoding": {
  "x": {"field": "x1", "type": "quantitative", "scale": {"type": "log", "domain": [0.0001, 10]}, "axis": {"orient": "bottom", "values": [0.0001,0.001,0.01,0.1,1,10], "tickSize": -5, "labelPadding": 9, "labelExpr": "['10⁻⁴','10⁻³','10⁻²','10⁻¹','10⁰','10¹'][round(log(datum.value)/LN10)+4]", "title": "|g^R_μτ|", "titlePadding": 4}},
  "x2": {"field": "x2"},
  "y": {"field": "y1", "type": "quantitative", "scale": {"type": "log", "domain": [0.0001, 10]}, "axis": {"orient": "left", "values": [0.0001,0.001,0.01,0.1,1,10], "tickSize": -5, "labelPadding": 9, "labelExpr": "['10⁻⁴','10⁻³','10⁻²','10⁻¹','10⁰','10¹'][round(log(datum.value)/LN10)+4]", "title": "|g^R_cu|", "titlePadding": 3}},
  "y2": {"field": "y2"}}},
{"data": {"name": "rects"}, "transform": [{"filter": "datum.p=='d' && datum.r=='c5'"}],
 "mark": {"type": "rect", "color": "#00ffff", "fillOpacity": 0.3, "stroke": "#3cbcbc", "strokeWidth": 1, "strokeDash": [1, 1.5], "clip": true},
 "encoding": {
  "x": {"field": "x1", "type": "quantitative", "scale": {"type": "log", "domain": [0.0001, 10]}, "axis": {"orient": "bottom", "values": [0.0002,0.0003,0.0004,0.0005,0.0006,0.0007,0.0008,0.0009,0.002,0.003,0.004,0.005,0.006,0.007,0.008,0.009,0.02,0.03,0.04,0.05,0.06,0.07,0.08,0.09,0.2,0.3,0.4,0.5,0.6,0.7,0.8,0.9,2,3,4,5,6,7,8,9], "tickSize": -2.5, "labels": false, "title": null}},
  "x2": {"field": "x2"},
  "y": {"field": "y1", "type": "quantitative", "scale": {"type": "log", "domain": [0.0001, 10]}, "axis": {"orient": "left", "values": [0.0002,0.0003,0.0004,0.0005,0.0006,0.0007,0.0008,0.0009,0.002,0.003,0.004,0.005,0.006,0.007,0.008,0.009,0.02,0.03,0.04,0.05,0.06,0.07,0.08,0.09,0.2,0.3,0.4,0.5,0.6,0.7,0.8,0.9,2,3,4,5,6,7,8,9], "tickSize": -2.5, "labels": false, "title": null}},
  "y2": {"field": "y2"}}},
{"data": {"name": "curves"}, "transform": [{"filter": "datum.p=='d' && datum.r=='hl'"}],
 "mark": {"type": "area", "color": "#9b9b9b", "fillOpacity": 0.26, "clip": true},
 "encoding": {"x": {"field": "x", "type": "quantitative", "scale": {"type": "log", "domain": [0.0001, 10]}, "axis": null}, "y": {"field": "y", "type": "quantitative", "scale": {"type": "log", "domain": [0.0001, 10]}, "axis": null}, "y2": {"datum": 10}}},
{"data": {"name": "curves"}, "transform": [{"filter": "datum.p=='d' && datum.r=='hl'"}],
 "mark": {"type": "line", "stroke": "#ff5a5a", "strokeWidth": 1, "strokeDash": [1, 1.5], "clip": true},
 "encoding": {"x": {"field": "x", "type": "quantitative", "scale": {"type": "log", "domain": [0.0001, 10]}, "axis": null}, "y": {"field": "y", "type": "quantitative", "scale": {"type": "log", "domain": [0.0001, 10]}, "axis": null}}},
{"data": {"name": "curves"}, "transform": [{"filter": "datum.p=='d' && datum.r=='run2'"}],
 "mark": {"type": "area", "color": "#808080", "fillOpacity": 0.4, "clip": true},
 "encoding": {"x": {"field": "x", "type": "quantitative", "scale": {"type": "log", "domain": [0.0001, 10]}, "axis": null}, "y": {"field": "y", "type": "quantitative", "scale": {"type": "log", "domain": [0.0001, 10]}, "axis": null}, "y2": {"datum": 10}}},
{"data": {"name": "curves"}, "transform": [{"filter": "datum.p=='d' && datum.r=='run2'"}],
 "mark": {"type": "line", "stroke": "#e82020", "strokeWidth": 1, "strokeDash": [3, 1.5, 1, 1.5], "clip": true},
 "encoding": {"x": {"field": "x", "type": "quantitative", "scale": {"type": "log", "domain": [0.0001, 10]}, "axis": null}, "y": {"field": "y", "type": "quantitative", "scale": {"type": "log", "domain": [0.0001, 10]}, "axis": null}}},
{"data": {"name": "curves"}, "transform": [{"filter": "datum.p=='d' && datum.r=='lhc'"}],
 "mark": {"type": "area", "color": "#ff0000", "fillOpacity": 0.72, "clip": true},
 "encoding": {"x": {"field": "x", "type": "quantitative", "scale": {"type": "log", "domain": [0.0001, 10]}, "axis": {"orient": "top", "values": [0.0001,0.001,0.01,0.1,1,10], "tickSize": -5, "labels": false, "title": null}}, "y": {"field": "y", "type": "quantitative", "scale": {"type": "log", "domain": [0.0001, 10]}, "axis": {"orient": "right", "values": [0.0001,0.001,0.01,0.1,1,10], "tickSize": -5, "labels": false, "title": null}}, "y2": {"datum": 10}}},
{"data": {"name": "curves"}, "transform": [{"filter": "datum.p=='d' && datum.r=='lhc'"}],
 "mark": {"type": "line", "stroke": "#ff0000", "strokeWidth": 1.2, "clip": true},
 "encoding": {"x": {"field": "x", "type": "quantitative", "scale": {"type": "log", "domain": [0.0001, 10]}, "axis": {"orient": "top", "values": [0.0002,0.0003,0.0004,0.0005,0.0006,0.0007,0.0008,0.0009,0.002,0.003,0.004,0.005,0.006,0.007,0.008,0.009,0.02,0.03,0.04,0.05,0.06,0.07,0.08,0.09,0.2,0.3,0.4,0.5,0.6,0.7,0.8,0.9,2,3,4,5,6,7,8,9], "tickSize": -2.5, "labels": false, "title": null}}, "y": {"field": "y", "type": "quantitative", "scale": {"type": "log", "domain": [0.0001, 10]}, "axis": {"orient": "right", "values": [0.0002,0.0003,0.0004,0.0005,0.0006,0.0007,0.0008,0.0009,0.002,0.003,0.004,0.005,0.006,0.007,0.008,0.009,0.02,0.03,0.04,0.05,0.06,0.07,0.08,0.09,0.2,0.3,0.4,0.5,0.6,0.7,0.8,0.9,2,3,4,5,6,7,8,9], "tickSize": -2.5, "labels": false, "title": null}}}},
{"data": {"name": "rules"}, "transform": [{"filter": "datum.p=='d' && datum.r=='lep'"}],
 "mark": {"type": "rule", "color": "#000000", "strokeWidth": 1, "strokeDash": [3, 2, 1, 2], "clip": true},
 "encoding": {"x": {"field": "x1", "type": "quantitative", "scale": {"type": "log", "domain": [0.0001, 10]}, "axis": null}, "y": {"field": "y1", "type": "quantitative", "scale": {"type": "log", "domain": [0.0001, 10]}, "axis": null}, "x2": {"field": "x2"}, "y2": {"field": "y2"}}},
{"data": {"name": "notes"}, "transform": [{"filter": "datum.p=='d'"}],
 "mark": {"type": "text", "align": "right", "baseline": "top", "dx": -4, "dy": 5, "lineHeight": 16, "font": "Liberation Serif", "fontStyle": "italic", "fontSize": 13.5, "color": "#000000"},
 "encoding": {"x": {"datum": 10, "type": "quantitative", "scale": {"type": "log", "domain": [0.0001, 10]}, "axis": null}, "y": {"datum": 10, "type": "quantitative", "scale": {"type": "log", "domain": [0.0001, 10]}, "axis": null}, "text": {"field": "lines"}}},
{"data": {"name": "notes"}, "transform": [{"filter": "datum.p=='d'"}],
 "mark": {"type": "text", "text": "M", "align": "left", "baseline": "middle", "dx": -104.5, "dy": 70, "font": "Liberation Serif", "fontStyle": "italic", "fontSize": 15, "color": "#000000"},
 "encoding": {"x": {"datum": 10, "type": "quantitative", "scale": {"type": "log", "domain": [0.0001, 10]}, "axis": null}, "y": {"datum": 10, "type": "quantitative", "scale": {"type": "log", "domain": [0.0001, 10]}, "axis": null}}},
{"data": {"name": "notes"}, "transform": [{"filter": "datum.p=='d'"}],
 "mark": {"type": "text", "text": "Z′", "align": "left", "baseline": "middle", "dx": -92.5, "dy": 75, "font": "Liberation Serif", "fontStyle": "italic", "fontSize": 10.5, "color": "#000000"},
 "encoding": {"x": {"datum": 10, "type": "quantitative", "scale": {"type": "log", "domain": [0.0001, 10]}, "axis": null}, "y": {"datum": 10, "type": "quantitative", "scale": {"type": "log", "domain": [0.0001, 10]}, "axis": null}}},
{"data": {"name": "notes"}, "transform": [{"filter": "datum.p=='d'"}],
 "mark": {"type": "text", "text": "=", "align": "left", "baseline": "middle", "dx": -79, "dy": 70, "font": "Liberation Serif", "fontSize": 15, "color": "#000000"},
 "encoding": {"x": {"datum": 10, "type": "quantitative", "scale": {"type": "log", "domain": [0.0001, 10]}, "axis": null}, "y": {"datum": 10, "type": "quantitative", "scale": {"type": "log", "domain": [0.0001, 10]}, "axis": null}}},
{"data": {"name": "notes"}, "transform": [{"filter": "datum.p=='d'"}],
 "mark": {"type": "text", "text": "1000 GeV", "align": "right", "baseline": "middle", "dx": -4.5, "dy": 70, "font": "DejaVu Sans", "fontSize": 13.5, "color": "#000000"},
 "encoding": {"x": {"datum": 10, "type": "quantitative", "scale": {"type": "log", "domain": [0.0001, 10]}, "axis": null}, "y": {"datum": 10, "type": "quantitative", "scale": {"type": "log", "domain": [0.0001, 10]}, "axis": null}}},
{"data": {"values": []},
 "mark": {"type": "point", "filled": true, "opacity": 1},
 "encoding": {
  "color": {"datum": "LHC", "type": "nominal", "scale": {"domain": ["LHC","LHC Run II","HL-LHC","Dijet","Lepton decays","(g−2)μ @ 4σ","(g−2)μ @ 5σ"], "range": ["#ff4848","#b4b4b4","#e6e6e6","#cd853f","transparent","#b2ffff","#80ffff"]}, "legend": {"title": null}},
  "stroke": {"datum": "LHC", "type": "nominal", "scale": {"domain": ["LHC","LHC Run II","HL-LHC","Dijet","Lepton decays","(g−2)μ @ 4σ","(g−2)μ @ 5σ"], "range": ["#ff4848","#e02020","#ff8080","#cd853f","#000000","#8fe3e3","#2fb0b0"]}, "legend": {"title": null}},
  "strokeDash": {"datum": "LHC", "type": "nominal", "scale": {"domain": ["LHC","LHC Run II","HL-LHC","Dijet","Lepton decays","(g−2)μ @ 4σ","(g−2)μ @ 5σ"], "range": [[1,0],[3,1.5,1,1.5],[1,1],[1,0],[3,2,1,2],[1,1],[1,1]]}, "legend": {"title": null}},
  "shape": {"datum": "LHC", "type": "nominal", "scale": {"domain": ["LHC","LHC Run II","HL-LHC","Dijet","Lepton decays","(g−2)μ @ 4σ","(g−2)μ @ 5σ"], "range": ["M-2.1,-0.8H2.1V0.8H-2.1Z","M-2.1,-0.8H2.1V0.8H-2.1Z","M-2.1,-0.8H2.1V0.8H-2.1Z","M-2.1,-0.8H2.1V0.8H-2.1Z","M-2.1,0H2.1","M-2.1,-0.8H2.1V0.8H-2.1Z","M-2.1,-0.8H2.1V0.8H-2.1Z"]}, "legend": {"title": null}}}}
]
}
],
"config": {
 "view": {"stroke": "#000000", "strokeWidth": 1},
 "axis": {"domain": false, "grid": false, "labelFont": "DejaVu Sans", "labelFontSize": 11, "labelColor": "#000000", "tickColor": "#000000", "tickWidth": 0.8, "labelFlush": false, "labelOverlap": false, "titleFont": "Liberation Serif", "titleFontStyle": "italic", "titleFontWeight": "normal", "titleFontSize": 15, "titleColor": "#000000"},
 "legend": {"orient": "bottom-left", "offset": 5, "padding": 5, "strokeColor": "#000000", "fillColor": "#ffffff", "symbolSize": 100, "symbolOffset": 5, "symbolStrokeWidth": 1, "labelFont": "DejaVu Sans", "labelFontSize": 10.5, "labelColor": "#000000", "labelOffset": 18, "rowPadding": 3, "labelLimit": 300},
 "title": {"orient": "bottom", "offset": 26, "frame": "bounds", "anchor": "middle", "font": "Liberation Serif", "fontSize": 21, "fontWeight": "normal", "color": "#000000"}
}
}
